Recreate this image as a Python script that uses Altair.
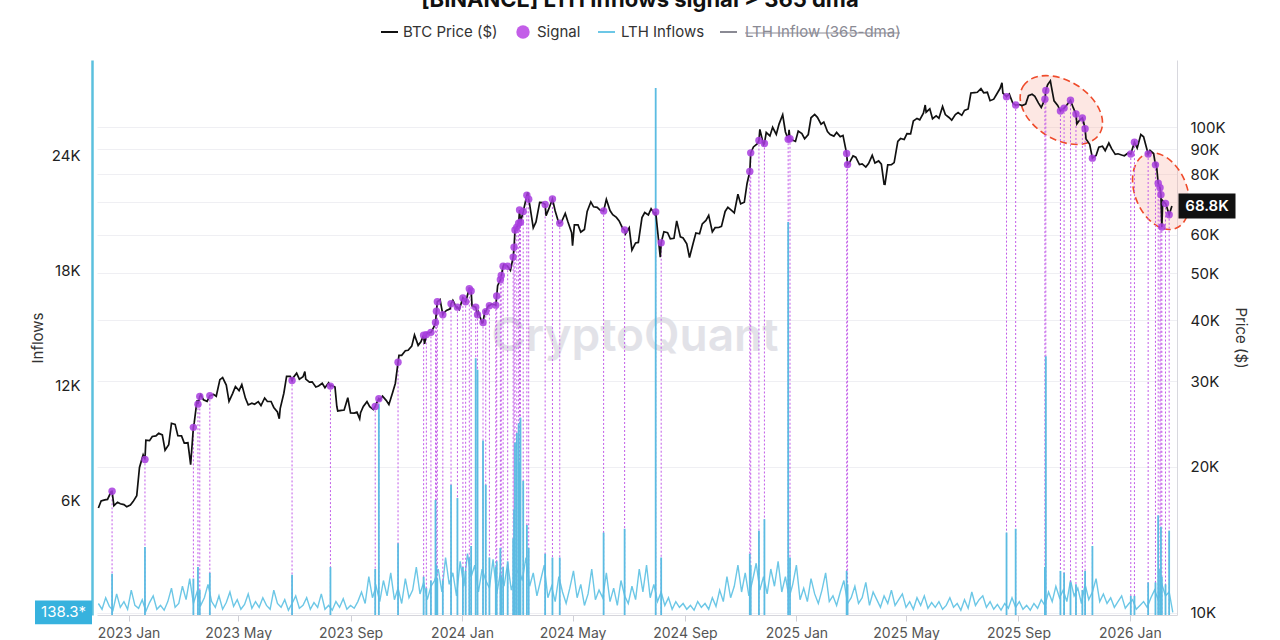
import altair as alt
import pandas as pd

# ---------------- data ----------------
PRICE_START = "2022-11-29"  # weekly BTC price, one value every 7 days from this date
btc_weekly = [
    16450, 17090, 17780, 16900, 16710, 16680, 17440, 21150, 22630, 23140,
    23250, 22200, 24450, 23150, 22400, 24700, 28150, 27260, 28170, 30210,
    29440, 28310, 28680, 27650, 27030, 27220, 27700, 27240, 25920, 28330,
    30690, 31160, 30620, 29860, 29180, 29700, 29770, 29170, 26120, 27730,
    25780, 25840, 27220, 26220, 27430, 27390, 28400, 33900, 34640, 35420,
    35540, 35800, 37820, 44080, 41450, 42260, 42520, 44940, 46120, 43140,
    39880, 42940, 43090, 49730, 52270, 57050, 63800, 71480, 62050, 70000,
    65720, 69140, 63430, 66410, 60610, 62880, 61550, 70140, 68370, 70550,
    67320, 65160, 61800, 62030, 57740, 65100, 65930, 66200, 56030, 60600,
    59010, 59420, 57480, 57650, 60310, 64260, 60840, 62130, 67040, 67370,
    72740, 70020, 88700, 92310, 91990, 95860, 96600, 106000, 98680, 93430,
    96950, 96530, 106150, 101330, 97870, 95780, 95550, 88740, 87220, 83720,
    82720, 87470, 85170, 76270, 83670, 93440, 94280, 96830, 104170, 106830,
    108990, 105430, 110260, 104640, 106050, 105700, 108930, 117750, 119950, 117900,
    114120, 120170, 112870, 111800, 111240, 111530, 116790, 112010, 114060, 121450,
    110760, 108460, 112940, 101500, 102990, 92160, 87370, 91300, 92700, 87860,
    87600, 88400, 93700, 96500, 89500, 88200, 75600, 68900,
]

MIDWEEK_START = "2022-12-02"  # second weekly reading, every 7 days from this date
btc_midweek = [
    17000, 17130, 16630, 16780, 16540, 16950, 19930, 22670, 23080, 23430,
    21630, 24570, 23170, 22360, 20200, 27400, 27470, 28470, 27920, 30490,
    27260, 29250, 29530, 26800, 26880, 26720, 27250, 26480, 26340, 30680,
    30470, 30280, 30300, 29900, 29320, 29080, 29410, 26050, 26160, 25800,
    25900, 26600, 26580, 26910, 27950, 26860, 29670, 33900, 34730, 37320,
    36160, 37720, 38690, 44170, 41930, 43990, 42150, 44160, 42850, 41620,
    41820, 43190, 47150, 52140, 50730, 62440, 68300, 69400, 63800, 69890,
    67840, 67190, 63820, 63750, 62880, 60800, 67050, 68520, 67490, 69300,
    66040, 64100, 60320, 56660, 57890, 66700, 67910, 61400, 60880, 58870,
    64100, 59100, 53950, 60540, 63200, 65800, 62070, 62450, 68370, 66600,
    69480, 76550, 91000, 98900, 97450, 99900, 101400, 97700, 94200, 98100,
    94600, 104500, 104700, 102400, 96500, 97500, 96100, 84400, 86700, 84000,
    84100, 84350, 83900, 83600, 84500, 94700, 96900, 102900, 103500, 107300,
    104000, 104300, 106100, 103300, 107100, 108200, 117500, 117900, 117600, 113300,
    116700, 117400, 116900, 108400, 110700, 116000, 115700, 109700, 122200, 113200,
    106400, 111000, 109600, 103400, 94500, 85100, 90900, 89400, 90300, 88100,
    87300, 89900, 90500, 95500, 89500, 84000, 70500, 68900,
]

# extra price points at local highs / lows
extra_dates = ["2023-03-10", "2023-04-14", "2023-06-15", "2023-07-13", "2023-08-17",
               "2023-09-11", "2024-01-23", "2024-03-13", "2024-05-01", "2024-06-07",
               "2024-07-05", "2024-08-05", "2024-09-06", "2025-04-07", "2025-05-22",
               "2025-08-14", "2025-10-06"]
extra_prices = [20200, 30500, 25100, 31400, 26600, 25100, 39500, 73400, 57000, 71000,
                55800, 54000, 53900, 76300, 111000, 123300, 124500]

last_date = "2026-02-16"
last_price = 68800

# signal days: date, BTC price, LTH inflow of that day
signal_dates = [
    "2022-12-14", "2023-01-19", "2023-03-13", "2023-03-18", "2023-03-20", "2023-03-31",
    "2023-06-29", "2023-08-10", "2023-09-28", "2023-10-02", "2023-10-23", "2023-11-20",
    "2023-11-23", "2023-11-28", "2023-12-03", "2023-12-04", "2023-12-05", "2023-12-11",
    "2023-12-20", "2023-12-27", "2024-01-02", "2024-01-05", "2024-01-09", "2024-01-11",
    "2024-01-16", "2024-01-18", "2024-01-24", "2024-01-27", "2024-01-31", "2024-02-07",
    "2024-02-08", "2024-02-12", "2024-02-13", "2024-02-15", "2024-02-20", "2024-02-26",
    "2024-02-27", "2024-02-28", "2024-03-01", "2024-03-03", "2024-03-04", "2024-03-05",
    "2024-03-08", "2024-03-12", "2024-03-14", "2024-04-01", "2024-04-09", "2024-04-17",
    "2024-06-04", "2024-06-27", "2024-07-31", "2024-08-06", "2024-11-11", "2024-11-12",
    "2024-11-21", "2024-11-27", "2024-12-23", "2024-12-25", "2025-02-25", "2025-02-26",
    "2025-08-19", "2025-08-29", "2025-09-30", "2025-10-01", "2025-10-17", "2025-10-21",
    "2025-10-28", "2025-11-03", "2025-11-10", "2025-11-13", "2025-11-21", "2026-01-02",
    "2026-01-06", "2026-01-21", "2026-01-29", "2026-02-01", "2026-02-03", "2026-02-04",
    "2026-02-05", "2026-02-09", "2026-02-13",
]
signal_prices = [
    17800, 20700, 24100, 26900, 27900, 28000,
    30100, 29300, 26600, 27600, 32800, 37300,
    37400, 37800, 39600, 41800, 43700, 41100,
    43300, 42600, 44500, 43700, 46500, 46000,
    42600, 41100, 39600, 41700, 42900, 43000,
    44900, 48500, 49500, 51700, 51700, 54000,
    56600, 61400, 62200, 63400, 67500, 63700,
    67000, 72400, 71000, 69300, 71100, 63400,
    67200, 61400, 66900, 57800, 81000, 88500,
    93800, 92500, 94400, 94600, 88200, 83700,
    115500, 111000, 114100, 118900, 107900, 109400,
    113500, 106400, 104400, 99200, 86300, 88000,
    93100, 88000, 83600, 76600, 75000, 72600,
    62300, 69600, 66000,
]
signal_inflows = [
    2150, 3550, 1900, 2500, 1300, 2200,
    2100, 2500, 2400, 11000, 3750, 2000,
    1400, 1800, 6000, 2600, 1900, 1800,
    6800, 6100, 2500, 2300, 3000, 3600,
    13400, 12800, 9100, 6800, 3000, 2500,
    2800, 3500, 2000, 2500, 2800, 4000,
    5500, 9000, 9500, 10000, 8000, 10300,
    7000, 4700, 3500, 3200, 3000, 3000,
    4300, 4500, 27500, 3000, 3200, 2600,
    4400, 5000, 20500, 3000, 2300, 1600,
    4300, 4500, 2500, 13500, 2300, 2200,
    1700, 1600, 1300, 2300, 3600, 1000,
    1000, 1700, 1700, 5200, 2400, 4600,
    2000, 1600, 4400,
]

INFLOW_START = "2022-11-29"  # LTH inflows, one value every 4 days from this date
lth_inflows = [
    600, 300, 900, 450, 250, 1100, 400, 700, 300, 1300, 500, 350, 800, 200, 650, 1000, 300, 500, 250, 700, 1400, 400, 600,
    1500, 800, 1900, 600, 1200, 500, 900, 1600, 700, 400, 1000, 300, 650, 1200, 450, 800, 300, 550, 1100, 350, 700, 400, 900,
    500, 300, 1300, 600, 400, 800, 250, 600, 1000, 350, 500, 900, 300, 650, 400, 1100, 300, 500, 250, 700, 400, 850, 300,
    500, 350, 700, 1200, 600, 2000, 900, 1500, 700, 1800, 1000, 2200, 800, 1400, 600, 1900, 900, 1300, 2500, 1100, 1700, 800, 1500,
    1800, 2400, 1200, 3000, 1600, 2200, 1000, 2800, 1500, 3200, 2000, 2600, 1200, 2400, 1800, 1400, 2900, 1100, 2200, 1500, 2700, 1300, 2000,
    2400, 1800, 3000, 1500, 2200, 1000, 1800, 2600, 900, 1500, 700, 2000, 1200, 600, 1400, 2300, 900, 1600, 500, 1100, 2400, 800, 1300,
    900, 2200, 700, 1400, 500, 1800, 1000, 600, 1500, 800, 2400, 1200, 2600, 900, 1600, 700, 1200, 500, 900, 300, 700, 400, 600,
    300, 500, 250, 700, 400, 600, 300, 900, 450, 1300, 700, 2000, 900, 1500, 2600, 1200, 2200, 1000, 1800, 2700, 1300, 2000, 1100,
    2400, 1500, 2800, 1200, 2000, 900, 1600, 2600, 800, 1400, 700, 1900, 1100, 600, 1300, 2200, 700, 1000, 500, 1200, 1800, 600, 900,
    1500, 600, 900, 1700, 500, 1200, 800, 400, 1000, 600, 1300, 500, 800, 1100, 400, 700, 300, 900, 500, 1000, 350, 650, 400,
    700, 300, 500, 900, 400, 600, 250, 800, 350, 1200, 500, 800, 1000, 400, 700, 300, 550, 250, 600, 350, 900, 400, 700,
    300, 500, 250, 600, 350, 800, 500, 1200, 700, 1500, 900, 1300, 700, 1800, 1000, 1400, 600, 1600, 800, 1200, 1900, 700, 1100,
    600, 900, 400, 700, 1000, 350, 600, 800, 300, 500, 700, 400, 900, 1300, 800, 1600, 1000, 1200, 138.3,
]
last_inflow = 138.3

# highlighted zones (center date, center price, ellipse size, tilt)
zone_dates = ["2025-10-18", "2026-02-04"]
zone_prices = [108400, 73800]
zone_sizes = [8100, 6400]
zone_angles = [32, 68]

x_tick_months = [(2023, 1), (2023, 5), (2023, 9), (2024, 1), (2024, 5), (2024, 9),
                 (2025, 1), (2025, 5), (2025, 9), (2026, 1)]
inflow_ticks = [6000, 12000, 18000, 24000]
price_ticks = [10000, 20000, 30000, 40000, 50000, 60000, 70000, 80000, 90000, 100000]

PRICE_DOMAIN = [9905, 137400]
INFLOW_DOMAIN = [0, 28957]

# ---------------- frames ----------------
fmt = "%Y-%m-%d"
weekly_df = pd.DataFrame({
    "date": pd.date_range(PRICE_START, periods=len(btc_weekly), freq="7D").strftime(fmt),
    "price": btc_weekly})
midweek_df = pd.DataFrame({
    "date": pd.date_range(MIDWEEK_START, periods=len(btc_midweek), freq="7D").strftime(fmt),
    "price": btc_midweek})
extra_df = pd.DataFrame({"date": extra_dates, "price": extra_prices})
sig_df = pd.DataFrame({"date": signal_dates, "price": signal_prices, "inflow": signal_inflows})
sig_df["floor"] = PRICE_DOMAIN[0]
sig_df["zero"] = 0
last_df = pd.DataFrame({"date": [last_date], "price": [last_price]})
price_df = (pd.concat([sig_df[["date", "price"]], extra_df, weekly_df, midweek_df, last_df])
            .drop_duplicates("date").sort_values("date").reset_index(drop=True))
inflow_df = pd.DataFrame({
    "date": pd.date_range(INFLOW_START, periods=len(lth_inflows), freq="4D").strftime(fmt),
    "inflow": lth_inflows})
zone_df = pd.DataFrame({"date": zone_dates, "price": zone_prices,
                        "size": zone_sizes, "angle": zone_angles})
one = pd.DataFrame({"k": [0]})

FONT = "Inter"
X_DOMAIN = [alt.DateTime(year=2022, month=11, date=27, hours=12, utc=True),
            alt.DateTime(year=2026, month=2, date=21, hours=14, utc=True)]
xscale = alt.Scale(type="utc", domain=X_DOMAIN)
price_scale = alt.Scale(type="log", domain=PRICE_DOMAIN, nice=False)
inflow_scale = alt.Scale(domain=INFLOW_DOMAIN, nice=False, zero=False)

x_axis = alt.Axis(
    values=[alt.DateTime(year=y, month=m, date=1, utc=True) for y, m in x_tick_months],
    format="%Y %b", labelFont=FONT, labelFontSize=14, labelColor="#555",
    tickColor="#cfcfd6", tickSize=6, domainColor="#d6d6dc", labelPadding=5,
    grid=False, title=None, labelOverlap=False, labelFlush=False)

left_axis = alt.Axis(
    orient="left", values=inflow_ticks, labelExpr="datum.value / 1000 + 'K'",
    title="Inflows", titleFont=FONT, titleFontSize=15, titleFontWeight="normal",
    titleColor="#333", labelFont=FONT, labelFontSize=15, labelColor="#222",
    tickSize=0, labelPadding=12, domainColor="#5bc0de", domainWidth=2.5, offset=5,
    grid=False, titlePadding=6)

right_axis = alt.Axis(
    orient="right", values=price_ticks,
    labelExpr="datum.value == 70000 ? '' : datum.value / 1000 + 'K'",
    title="Price ($)", titleAngle=90, titleFont=FONT, titleFontSize=15,
    titleFontWeight="normal", titleColor="#333", labelFont=FONT, labelFontSize=15,
    labelColor="#222", tickSize=0, labelPadding=13, domainColor="#d8d8de",
    grid=True, gridColor="#efeff3", titlePadding=7)


def xenc():
    return alt.X("date:T", scale=xscale, axis=x_axis)


layers = []

# watermark
layers.append(alt.Chart(one).mark_text(
    text="CryptoQuant", font=FONT, fontSize=46, fontWeight=600, color="#dcdce3",
    opacity=0.8, align="center", baseline="alphabetic").encode(
    x=alt.value(538), y=alt.value(291)))

# LTH inflows line
layers.append(alt.Chart(inflow_df).mark_line(color="#6cc7e6", strokeWidth=1.4).encode(
    x=xenc(), y=alt.Y("inflow:Q", scale=inflow_scale, axis=left_axis)))

# highlight zones
ELLIPSE = "M -1 0 A 1 0.65 0 1 1 1 0 A 1 0.65 0 1 1 -1 0 Z"
layers.append(alt.Chart(zone_df).mark_point(
    shape=ELLIPSE, filled=True, fill="#f8b0a2", fillOpacity=0.3, stroke="#ef4b2b",
    strokeWidth=1.6, strokeDash=[7, 4], strokeOpacity=1, opacity=1).encode(
    x=xenc(), y=alt.Y("price:Q", scale=price_scale, axis=None),
    size=alt.Size("size:Q", scale=None), angle=alt.Angle("angle:Q", scale=None)))

# signal dashed verticals
layers.append(alt.Chart(sig_df).mark_rule(color="#c25be8", strokeWidth=1, strokeDash=[2, 2]).encode(
    x=xenc(), y=alt.Y("price:Q", scale=price_scale, axis=None), y2="floor"))

# inflow spikes on signal days
layers.append(alt.Chart(sig_df).mark_rule(color="#5bbce2", strokeWidth=1.8).encode(
    x=xenc(), y=alt.Y("inflow:Q", scale=inflow_scale, axis=None), y2="zero"))

# BTC price line
layers.append(alt.Chart(price_df).mark_line(color="#111111", strokeWidth=1.7).encode(
    x=xenc(), y=alt.Y("price:Q", scale=price_scale, axis=right_axis)))

# signal dots
layers.append(alt.Chart(sig_df).mark_circle(size=55, color="#a83ddf", opacity=0.85).encode(
    x=xenc(), y=alt.Y("price:Q", scale=price_scale, axis=None)))

# last price box
lastp = pd.DataFrame({"price": [last_price], "label": [f"{last_price/1000:.1f}K"]})
layers.append(alt.Chart(lastp).mark_point(
    shape="M -1 -0.44 L 1 -0.44 L 1 0.44 L -1 0.44 Z", filled=True, color="#111111",
    size=3249, opacity=1).encode(
    x=alt.value(1110), y=alt.Y("price:Q", scale=price_scale, axis=None)))
layers.append(alt.Chart(lastp).mark_text(
    font=FONT, fontSize=15, fontWeight=600, color="white", align="center", baseline="middle").encode(
    x=alt.value(1110), y=alt.Y("price:Q", scale=price_scale, axis=None), text="label:N"))

# last inflow box
lasti = pd.DataFrame({"inflow": [last_inflow], "label": [f"{last_inflow}*"]})
layers.append(alt.Chart(lasti).mark_point(
    shape="M -1 -0.42 L 1 -0.42 L 1 0.42 L -1 0.42 Z", filled=True, color="#37b2de",
    size=3249, opacity=1).encode(
    x=alt.value(-33.5), y=alt.Y("inflow:Q", scale=inflow_scale, axis=None)))
layers.append(alt.Chart(lasti).mark_text(
    font=FONT, fontSize=15, color="white", align="center", baseline="middle").encode(
    x=alt.value(-33.5), y=alt.Y("inflow:Q", scale=inflow_scale, axis=None), text="label:N"))


# legend (drawn by hand)
def leg_text(t, x, color="#333"):
    return alt.Chart(one).mark_text(text=t, font=FONT, fontSize=15, color=color,
                                    align="left", baseline="middle").encode(
        x=alt.value(x), y=alt.value(-28))


def leg_line(x1, x2, color):
    return alt.Chart(one).mark_rule(color=color, strokeWidth=2).encode(
        x=alt.value(x1), x2=alt.value(x2), y=alt.value(-28))


layers += [
    leg_line(284, 301, "#111111"), leg_text("BTC Price ($)", 306),
    alt.Chart(one).mark_circle(size=180, color="#c35ee8", opacity=1).encode(
        x=alt.value(426), y=alt.value(-28)),
    leg_text("Signal", 440),
    leg_line(501, 518, "#6cc7e6"), leg_text("LTH Inflows", 524),
    leg_line(623, 640, "#8a8a94"), leg_text("LTH Inflow (365-dma)", 648, "#8a8a94"),
    alt.Chart(one).mark_rule(color="#8a8a94", strokeWidth=1).encode(
        x=alt.value(648), x2=alt.value(803), y=alt.value(-27)),
]

# title (partly cut by the top edge, as in the source)
layers.append(alt.Chart(one).mark_text(
    text="[BINANCE] LTH Inflows signal > 365 dma", font=FONT, fontSize=22, fontWeight="bold",
    color="#111111", align="center", baseline="alphabetic").encode(
    x=alt.value(543), y=alt.value(-53)))

chart = (alt.layer(*layers)
         .resolve_scale(y="independent")
         .properties(width=1080, height=555,
                     padding={"left": 97, "top": 60, "right": 103, "bottom": 25},
                     autosize=alt.AutoSizeParams(type="none"),
                     background="white")
         .configure_view(stroke=None))

chart.save("out.html", embed_options={"renderer": "svg", "actions": False})
